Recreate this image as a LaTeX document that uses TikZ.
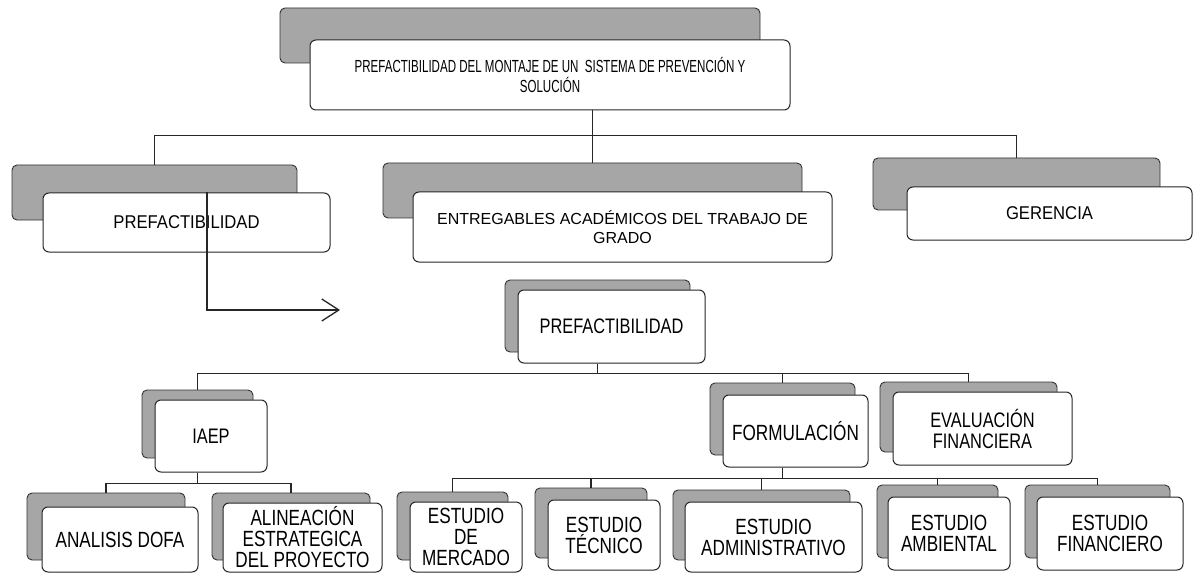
\documentclass[tikz,border=0pt]{standalone}
\usepackage{fontspec}
\setmainfont{Liberation Sans}
\newfontfamily\narrowsans{Liberation Sans}[FakeStretch=0.66]
\newfontfamily\condsans{Liberation Sans}[FakeStretch=0.78]
\newfontfamily\semisans{Liberation Sans}[FakeStretch=0.9]
\usepackage{tikz}
\usetikzlibrary{arrows.meta}

\begin{document}
\begin{tikzpicture}[x=1pt, y=-1pt,
                    back/.style={draw=black!80, fill=black!35, line width=0.9pt, rounded corners=5pt, inner sep=0pt},
                    face/.style={draw=black!85, fill=white, line width=1pt, rounded corners=6pt, inner sep=0pt,
                                 align=center, font=\condsans\fontsize{22}{21}\selectfont},
                    link/.style={draw=black!85, line width=1.3pt}]
              \useasboundingbox (0,0) rectangle (1203,575);
              % top
              \node [back, minimum width=480pt, minimum height=55pt] (topB) at (520,35.5) {};
              \node [face, minimum width=480pt, minimum height=70pt, font=\narrowsans\fontsize{17.5}{19.5}\selectfont] (top) at (550,75)
                    {PREFACTIBILIDAD DEL MONTAJE DE UN~ SISTEMA DE PREVENCIÓN Y\\SOLUCIÓN};
              % second row
              \node [back, minimum width=285pt, minimum height=55pt] (preB) at (154.5,192.5) {};
              \node [face, minimum width=287pt, minimum height=59pt, font=\semisans\fontsize{18.5}{20}\selectfont] (pre) at (186.5,222.5) {PREFACTIBILIDAD};
              \node [back, minimum width=419pt, minimum height=55pt] (entB) at (592.5,190.5) {};
              \node [face, minimum width=419pt, minimum height=70pt, font=\fontsize{16}{18.5}\selectfont] (ent) at (622.5,227)
                    {ENTREGABLES ACADÉMICOS DEL TRABAJO DE\\GRADO};
              \node [back, minimum width=287pt, minimum height=52pt] (gerB) at (1016.5,184) {};
              \node [face, minimum width=285pt, minimum height=53pt, font=\semisans\fontsize{18.5}{20}\selectfont] (ger) at (1049.5,213.5) {GERENCIA};
              % prefactibilidad
              \node [back, minimum width=185pt, minimum height=72pt] (pre2B) at (597.5,316) {};
              \node [face, minimum width=187pt, minimum height=73pt, font=\condsans\fontsize{21}{21}\selectfont] (pre2) at (611.5,326.5) {PREFACTIBILIDAD};
              \node [back, minimum width=111pt, minimum height=68pt] (iaepB) at (197.5,424) {};
              \node [face, minimum width=112pt, minimum height=72pt, font=\condsans\fontsize{21}{21}\selectfont] (iaep) at (211,436) {IAEP};
              \node [back, minimum width=145pt, minimum height=72pt] (formB) at (782.5,419) {};
              \node [face, minimum width=145pt, minimum height=72pt] (form) at (795.5,431) {FORMULACIÓN};
              \node [back, minimum width=177pt, minimum height=70pt] (evalB) at (968.5,417) {};
              \node [face, minimum width=179pt, minimum height=73pt, font=\condsans\fontsize{21}{21}\selectfont] (eval) at (982.5,428.5) {EVALUACIÓN\\FINANCIERA};
              % bottom row
              \node [back, minimum width=158pt, minimum height=67pt] (dofaB) at (106,526.5) {};
              \node [face, minimum width=156pt, minimum height=65pt] (dofa) at (120,539.5) {ANALISIS DOFA};
              \node [back, minimum width=158pt, minimum height=67pt] (alinB) at (291,526.5) {};
              \node [face, minimum width=159pt, minimum height=69pt] (alin) at (302.5,537.5) {ALINEACIÓN\\ESTRATEGICA\\DEL PROYECTO};
              \node [back, minimum width=111pt, minimum height=68pt] (mercB) at (452.5,526) {};
              \node [face, minimum width=112pt, minimum height=70pt] (merc) at (466,537) {ESTUDIO\\DE\\MERCADO};
              \node [back, minimum width=112pt, minimum height=70pt] (tecB) at (591,523) {};
              \node [face, minimum width=112pt, minimum height=70pt] (tec) at (604,535) {ESTUDIO\\TÉCNICO};
              \node [back, minimum width=177pt, minimum height=70pt] (admB) at (761.5,525) {};
              \node [face, minimum width=177pt, minimum height=70pt] (adm) at (773.5,537) {ESTUDIO\\ADMINISTRATIVO};
              \node [back, minimum width=121pt, minimum height=73pt] (ambB) at (937.5,521.5) {};
              \node [face, minimum width=122pt, minimum height=73pt] (amb) at (949,533.5) {ESTUDIO\\AMBIENTAL};
              \node [back, minimum width=145pt, minimum height=73pt] (finB) at (1097.5,521.5) {};
              \node [face, minimum width=146pt, minimum height=73pt] (fin) at (1110,533.5) {ESTUDIO\\FINANCIERO};
              % links
              \draw [link] (top.south -| entB) -- (entB.north);
              \draw [link] (top.south -| entB) -- ++(0,25) -| (preB.north);
              \draw [link] (top.south -| entB) -- ++(0,25) -| (gerB.north);
              \draw [link] (pre2.south -| pre2B) -- ++(0,10) -| (iaepB.north);
              \draw [link] (pre2.south -| pre2B) -- ++(0,10) -| (formB.north);
              \draw [link] (pre2.south -| pre2B) -- ++(0,10) -| (evalB.north);
              \draw [link] (iaep.south -| iaepB) -- ++(0,11) -| (dofaB.north);
              \draw [link] (iaep.south -| iaepB) -- ++(0,11) -| (alinB.north);
              \draw [link] (form.south -| formB) -- ++(0,11) -| (mercB.north);
              \draw [link] (form.south -| formB) -- ++(0,11) -| (tecB.north);
              \draw [link] (form.south -| formB) -- ++(0,11) -| (admB.north);
              \draw [link] (form.south -| formB) -- ++(0,11) -| (ambB.north);
              \draw [link] (form.south -| formB) -- ++(0,11) -| (finB.north);
              \coordinate (tip) at (340,310);
              \draw [link, -{Straight Barb[length=17pt, width=22pt]}] ([xshift=20.5pt]pre.north) |- (tip);
            \end{tikzpicture}
\end{document}
